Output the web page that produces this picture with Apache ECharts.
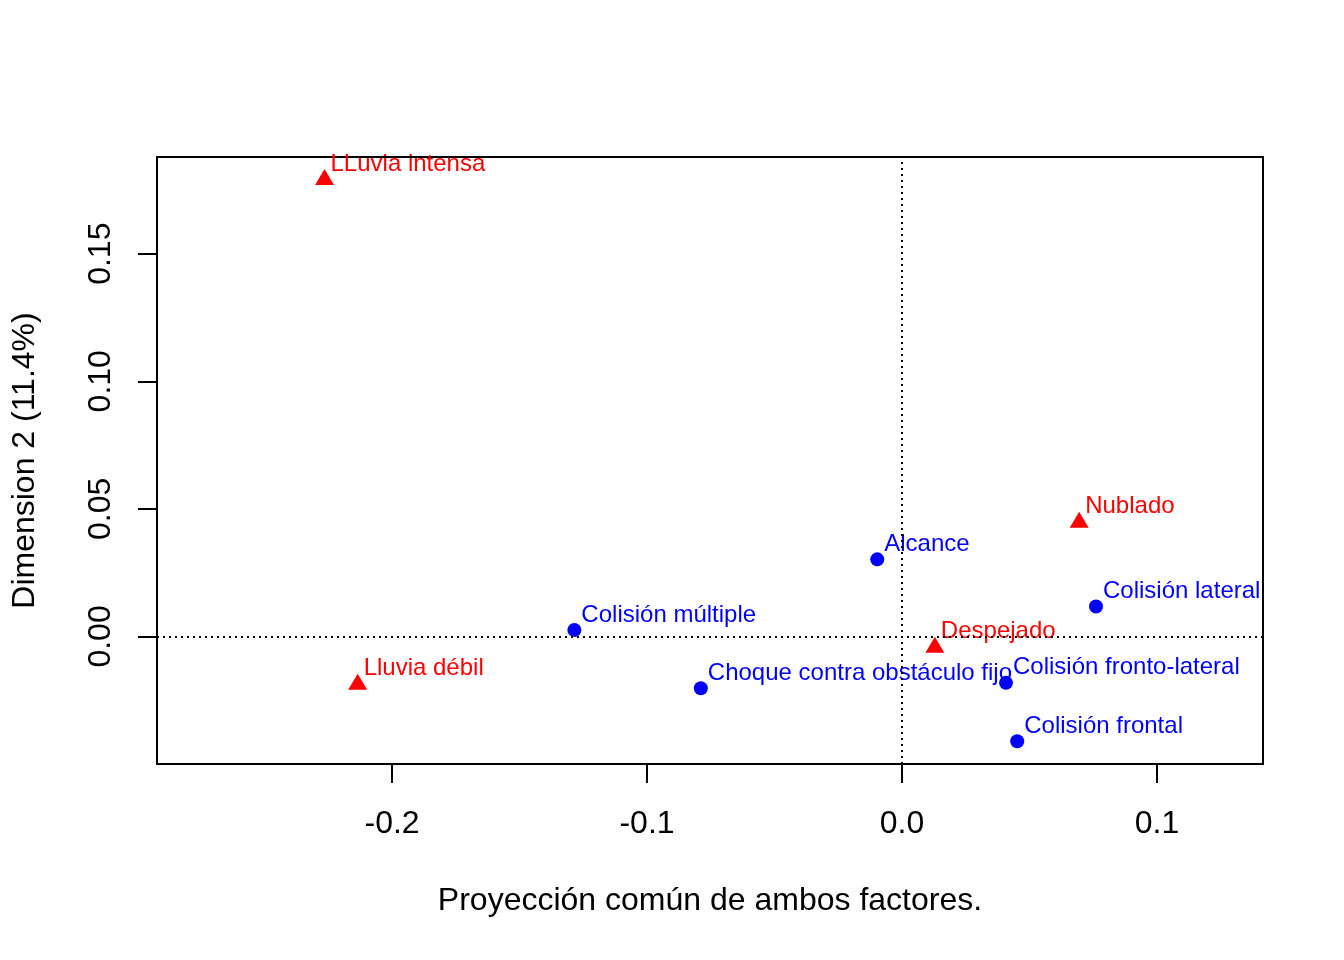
<!DOCTYPE html>
<html>
<head>
<meta charset="utf-8">
<script src="https://cdn.jsdelivr.net/npm/echarts@6/dist/echarts.min.js"></script>
<style>
  html, body { margin: 0; padding: 0; background: #ffffff; }
  #chart { width: 1344px; height: 960px; }
</style>
</head>
<body>
<div id="chart"></div>
<script>
// Row categories (weather) - red triangles
const weatherNames = ["LLuvia intensa", "Lluvia débil", "Despejado", "Nublado"];
const weatherX = [-0.2265, -0.2135, 0.0129, 0.0695];
const weatherY = [0.1801, -0.0178, -0.0033, 0.0457];

// Column categories (collision type) - blue circles
const collisionNames = ["Alcance", "Colisión lateral", "Colisión múltiple", "Choque contra obstáculo fijo", "Colisión fronto-lateral", "Colisión frontal"];
const collisionX = [-0.0097, 0.0761, -0.1285, -0.0789, 0.0408, 0.0452];
const collisionY = [0.0302, 0.0117, 0.0025, -0.0203, -0.0182, -0.0411];

// Axis ticks
const xTicks = [-0.2, -0.1, 0.0, 0.1];
const xTickLabels = ["-0.2", "-0.1", "0.0", "0.1"];
const yTicks = [0.00, 0.05, 0.10, 0.15];
const yTickLabels = ["0.00", "0.05", "0.10", "0.15"];

const xTitle = "Proyección común de ambos factores.";
const yTitle = "Dimension 2 (11.4%)";

const FONT = "'Liberation Sans', Arial, Helvetica, sans-serif";

function pts(names, xs, ys) {
  return names.map((n, i) => ({ name: n, value: [xs[i], ys[i]] }));
}
function fmt(v, ticks, labels) {
  for (let i = 0; i < ticks.length; i++) {
    if (Math.abs(v - ticks[i]) < 1e-9) return labels[i];
  }
  return '';
}

const chart = echarts.init(document.getElementById('chart'), null, { renderer: 'canvas' });

const option = {
  backgroundColor: '#ffffff',
  animation: false,
  grid: {
    left: 157, top: 157, right: 81, bottom: 196,
    show: true, borderColor: '#000000', borderWidth: 2, backgroundColor: 'transparent'
  },
  xAxis: {
    type: 'value',
    min: -0.2922, max: 0.1416,
    name: xTitle,
    nameLocation: 'middle',
    nameGap: 121,
    nameTextStyle: { color: '#000', fontSize: 32, fontFamily: FONT },
    axisLine: { show: false, onZero: false },
    splitLine: { show: false },
    axisTick: {
      show: true, inside: false, length: 19,
      customValues: xTicks,
      lineStyle: { color: '#000', width: 2 }
    },
    axisLabel: {
      show: true, margin: 44,
      customValues: xTicks,
      color: '#000', fontSize: 32, fontFamily: FONT,
      formatter: v => fmt(v, xTicks, xTickLabels)
    }
  },
  yAxis: {
    type: 'value',
    min: -0.05, max: 0.1879,
    name: yTitle,
    nameLocation: 'middle',
    nameGap: 116,
    nameRotate: 90,
    nameTextStyle: { color: '#000', fontSize: 32, fontFamily: FONT },
    axisLine: { show: false, onZero: false },
    splitLine: { show: false },
    axisTick: {
      show: true, inside: false, length: 19,
      customValues: yTicks,
      lineStyle: { color: '#000', width: 2 }
    },
    axisLabel: {
      show: true, margin: 40, rotate: 90,
      customValues: yTicks,
      color: '#000', fontSize: 32, fontFamily: FONT,
      formatter: v => fmt(v, yTicks, yTickLabels)
    }
  },
  series: [
    {
      name: 'filas',
      type: 'scatter',
      symbol: 'triangle',
      symbolSize: [19, 16],
      itemStyle: { color: '#ff0000', opacity: 1 },
      emphasis: { disabled: true },
      data: pts(weatherNames, weatherX, weatherY),
      label: {
        show: true,
        position: 'right',
        distance: -3.5,
        offset: [0, -13],
        formatter: p => p.name,
        color: '#ff0000', opacity: 1, fontSize: 24, fontFamily: FONT
      },
      markLine: {
        silent: true,
        symbol: 'none',
        label: { show: false },
        lineStyle: { color: '#000', type: [2, 4], width: 2, opacity: 1 },
        data: [{ xAxis: 0 }, { yAxis: 0 }]
      },
      z: 3
    },
    {
      name: 'columnas',
      type: 'scatter',
      symbol: 'circle',
      symbolSize: 14,
      itemStyle: { color: '#0000ff', opacity: 1 },
      emphasis: { disabled: true },
      data: pts(collisionNames, collisionX, collisionY),
      label: {
        show: true,
        position: 'right',
        distance: 0,
        offset: [0, -15],
        formatter: p => p.name,
        color: '#0000ff', opacity: 1, fontSize: 24, fontFamily: FONT
      },
      z: 3
    }
  ]
};

chart.setOption(option);
</script>
</body>
</html>
